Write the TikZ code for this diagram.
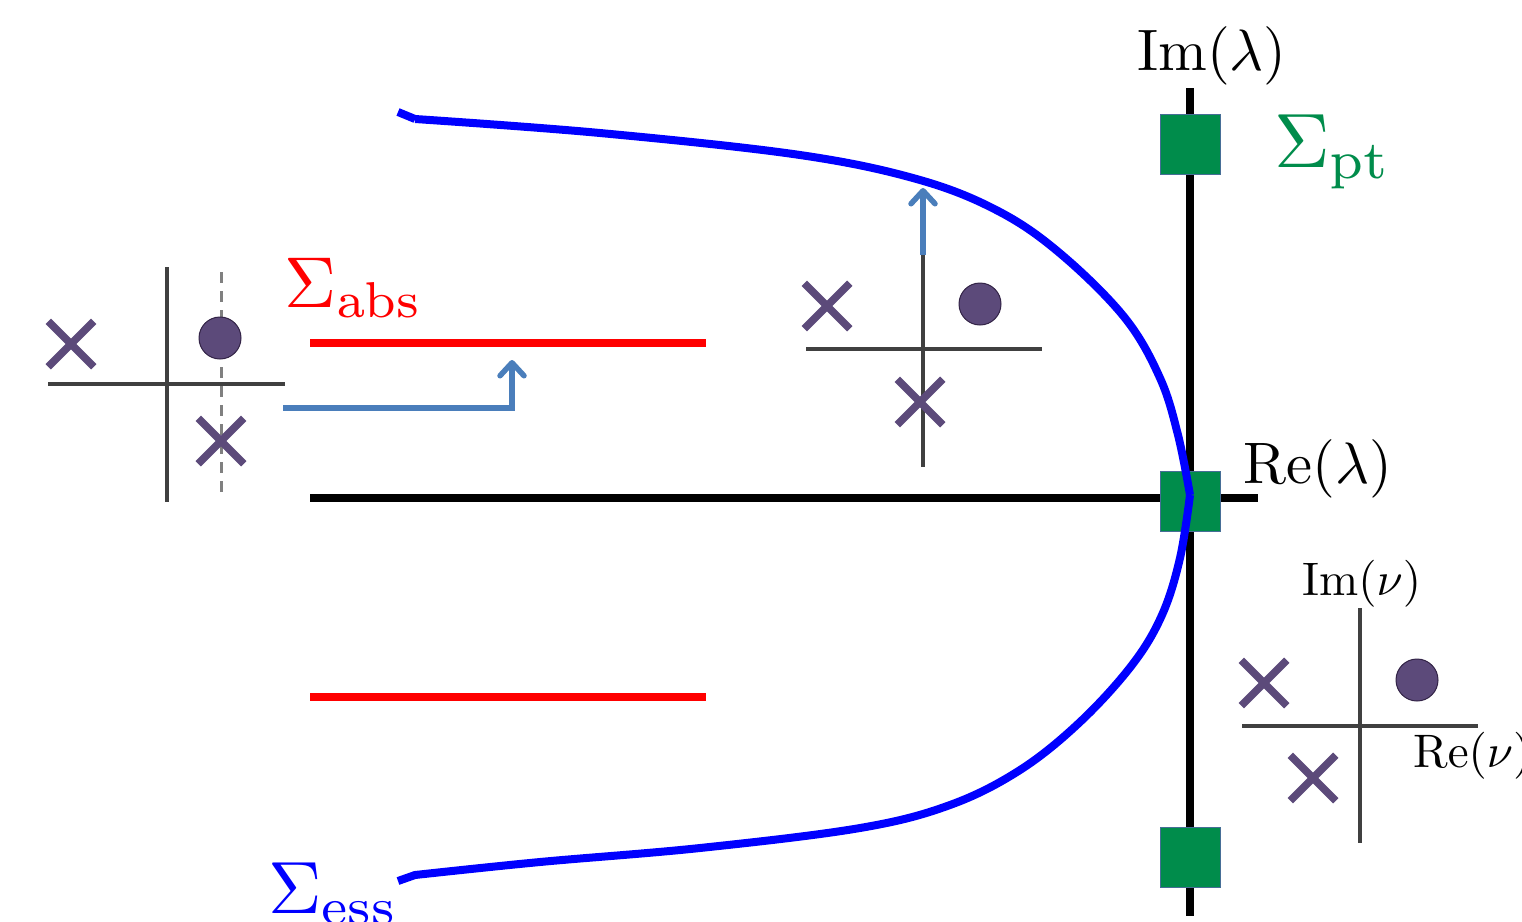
\documentclass[tikz,border=0pt]{standalone}
\usetikzlibrary{arrows.meta,shapes.misc}
\definecolor{ptgreen}{RGB}{0,140,75}
\definecolor{sqborder}{RGB}{70,110,150}
\definecolor{xpurple}{RGB}{92,74,122}
\definecolor{dotborder}{RGB}{50,35,70}
\definecolor{axgray}{RGB}{64,64,64}
\definecolor{dashgray}{RGB}{128,128,128}
\definecolor{arrblue}{RGB}{74,126,187}
\newcommand{\bigtxt}[2]{\scalebox{#1}{\fontsize{10}{12}\selectfont #2}}
\tikzset{
  bigaxis/.style={black,line width=8pt},
  smallaxis/.style={axgray,line width=3.5pt},
  redline/.style={red,line width=8pt},
  esscurve/.style={blue,line width=8pt,line join=miter},
  sqnode/.style={rectangle,fill=ptgreen,draw=sqborder,line width=1pt,minimum size=60pt,inner sep=0pt},
  xnode/.style={cross out,draw=xpurple,line width=7.5pt,minimum size=38pt,inner sep=0pt},
  dotnode/.style={circle,fill=xpurple,draw=dotborder,line width=1pt,minimum size=42pt,inner sep=0pt},
  bluearrow/.style={arrblue,line width=5.5pt,-{Straight Barb[length=13pt,width=24pt,line width=5.5pt,round]}},
  textlabel/.style={inner sep=0pt,anchor=base west},
}
\begin{document}
\begin{tikzpicture}[x=1pt,y=-1pt]
\useasboundingbox (0,0) rectangle (1522,921);

% main axes
\coordinate (imtop) at (1190,88);
\coordinate (imbot) at (1190,916);
\coordinate (releft) at (310,498);
\coordinate (reright) at (1258,498);
\draw[bigaxis] (imtop) -- (imbot);
\draw[bigaxis] (releft) -- (reright);

% red lines
\coordinate (r1a) at (310,343);
\coordinate (r1b) at (706,343);
\coordinate (r2a) at (310,697);
\coordinate (r2b) at (706,697);
\draw[redline] (r1a) -- (r1b);
\draw[redline] (r2a) -- (r2b);

% green squares
\node[sqnode] (sq1) at (1190,144) {};
\node[sqnode] (sq2) at (1190,501) {};
\node[sqnode] (sq3) at (1190,857) {};

% essential spectrum curve
\coordinate (tip) at (1190,495);
\draw[esscurve] (398,112) -- (415,119)
  plot[smooth,tension=0.6] coordinates {(415,119) (600,133) (800,155) (920,180) (1000,212) (1062,255) (1125,318) (1160,378) (1178,435) (1190,495)};
\draw[esscurve]
  plot[smooth,tension=0.6] coordinates {(1190,495) (1180,558) (1162,615) (1132,665) (1080,722) (1020,770) (950,805) (860,828) (700,848) (540,862) (415,875)}
  -- (398,881);

% labels
\node[textlabel] (imlam) at (1137,70) {\bigtxt{5.85}{$\mathrm{Im}(\lambda)$}};
\node[textlabel] (relam) at (1243,483) {\bigtxt{5.85}{$\mathrm{Re}(\lambda)$}};
\node[textlabel,text=ptgreen] (sigpt) at (1274,167) {\bigtxt{7.7}{$\Sigma_{\mathrm{pt}}$}};
\node[textlabel,text=red] (sigabs) at (284,307) {\bigtxt{7.2}{$\Sigma_{\mathrm{abs}}$}};
\node[textlabel,text=blue] (sigess) at (268,913) {\bigtxt{7.4}{$\Sigma_{\mathrm{ess}}$}};

% left small diagram
\coordinate (la1) at (167,267);
\coordinate (la2) at (167,502);
\coordinate (la3) at (48,384);
\coordinate (la4) at (285,384);
\coordinate (ld1) at (221,272);
\coordinate (ld2) at (221,497);
\draw[dashgray,line width=3pt,dash pattern=on 11pt off 8pt] (ld1) -- (ld2);
\draw[smallaxis] (la1) -- (la2);
\draw[smallaxis] (la3) -- (la4);
\node[xnode] (lx1) at (71,344) {};
\node[xnode] (lx2) at (221,441) {};
\node[dotnode] (ldot) at (220,338) {};

% left arrow
\coordinate (lar1) at (283,408);
\coordinate (lar2) at (512,360);
\draw[bluearrow] (lar1) -| (lar2);

% middle small diagram
\coordinate (ma1) at (923,255);
\coordinate (ma2) at (923,467);
\coordinate (ma3) at (806,349);
\coordinate (ma4) at (1042,349);
\coordinate (marr) at (923,188);
\draw[smallaxis] (ma1) -- (ma2);
\draw[smallaxis] (ma3) -- (ma4);
\draw[bluearrow] (ma1) -- (marr);
\node[xnode] (mx1) at (827,306) {};
\node[xnode] (mx2) at (920,402) {};
\node[dotnode] (mdot) at (980,304) {};

% right small diagram
\coordinate (ra1) at (1360,608);
\coordinate (ra2) at (1360,843);
\coordinate (ra3) at (1242,726);
\coordinate (ra4) at (1478,726);
\draw[smallaxis] (ra1) -- (ra2);
\draw[smallaxis] (ra3) -- (ra4);
\node[xnode] (rx1) at (1264,683) {};
\node[xnode] (rx2) at (1313,778) {};
\node[dotnode] (rdot) at (1417,680) {};
\node[textlabel] (imnu) at (1302,595) {\bigtxt{4.7}{$\mathrm{Im}(\nu)$}};
\node[textlabel] (renu) at (1413,767) {\bigtxt{4.7}{$\mathrm{Re}(\nu)$}};
\end{tikzpicture}
\end{document}
